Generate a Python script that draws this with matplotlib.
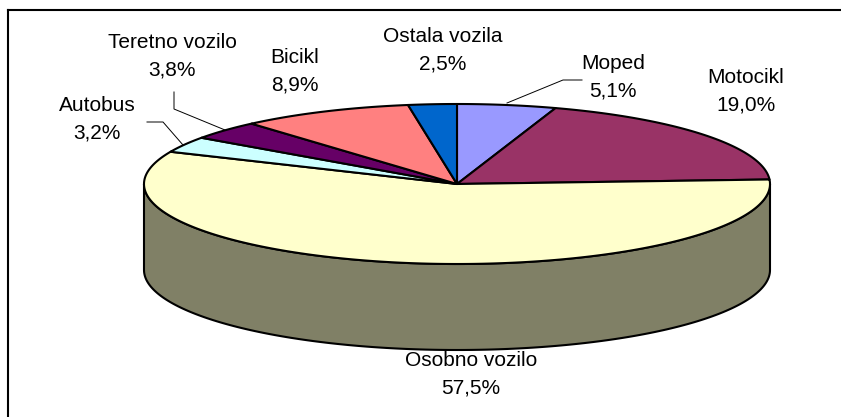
import numpy as np
import matplotlib
matplotlib.use('Agg')
import matplotlib.pyplot as plt
from matplotlib.patches import Polygon

# data (clockwise from 12 o'clock)
labels = ['Moped', 'Motocikl', 'Osobno vozilo', 'Autobus',
          'Teretno vozilo', 'Bicikl', 'Ostala vozila']
values = [5.1, 19.0, 57.5, 3.2, 3.8, 8.9, 2.5]
colors = ['#9999FF', '#993366', '#FFFFCC', '#CCFFFF',
          '#660066', '#FF8080', '#0066CC']

# label centres (pixels) and leader lines
label_pos = [(613, 77), (746, 91), (471, 374), (97, 119),
             (172, 56), (295, 71), (443, 50)]
leaders = {0: [(582, 80), (563, 80), (507, 103)],
           3: [(147, 122), (163, 122), (183, 145)],
           4: [(174, 92), (174, 109), (225, 130)]}

W, H = 841, 417
cx, cy, rx, ry, depth = 457, 184, 313, 80, 86

plt.rcParams['font.family'] = ['Liberation Sans', 'DejaVu Sans']
fig = plt.figure(figsize=(W / 100, H / 100), dpi=100)
ax = fig.add_axes([0, 0, 1, 1])
ax.set_xlim(0, W)
ax.set_ylim(H, 0)
ax.axis('off')


def pt(th, dy=0):
    return cx + rx * np.sin(th), cy - ry * np.cos(th) + dy


def shade(c):
    r, g, b = matplotlib.colors.to_rgb(c)
    return (r * 0.5, g * 0.5, b * 0.5)


frac = np.array(values) / sum(values)
edges = np.concatenate([[0], np.cumsum(frac)]) * 2 * np.pi

# side walls (front half only)
for i in range(len(values)):
    a0 = max(edges[i], np.pi / 2)
    a1 = min(edges[i + 1], 3 * np.pi / 2)
    if a1 <= a0:
        continue
    t = np.linspace(a0, a1, 200)
    xs, ys = pt(t)
    xb, yb = pt(t[::-1], depth)
    poly = np.column_stack([np.concatenate([xs, xb]), np.concatenate([ys, yb])])
    ax.add_patch(Polygon(poly, closed=True, fc=shade(colors[i]), ec='black', lw=1.5))

# top wedges
for i in range(len(values)):
    t = np.linspace(edges[i], edges[i + 1], 300)
    xs, ys = pt(t)
    poly = np.column_stack([np.concatenate([[cx], xs]), np.concatenate([[cy], ys])])
    ax.add_patch(Polygon(poly, closed=True, fc=colors[i], ec='black', lw=1.5,
                         joinstyle='round'))

# labels
for i, (lab, v) in enumerate(zip(labels, values)):
    x, y = label_pos[i]
    txt = lab + '\n' + ('%.1f%%' % v).replace('.', ',')
    ax.text(x, y, txt, ha='center', va='center', fontsize=15,
            linespacing=1.6, color='black')

for pts in leaders.values():
    px, py = zip(*pts)
    ax.plot(px, py, color='black', lw=0.7)

# frame (cropped: top and left only)
ax.plot([8, W], [10, 10], color='black', lw=1.5)
ax.plot([8, 8], [10, H], color='black', lw=1.5)

fig.savefig('out.png', dpi=100)
